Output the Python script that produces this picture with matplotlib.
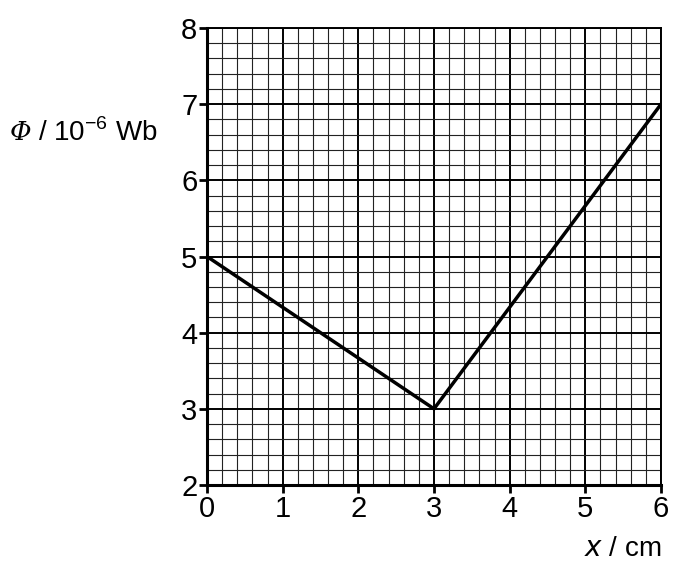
import matplotlib.pyplot as plt
import numpy as np
from matplotlib.ticker import MultipleLocator

plt.rcParams['font.family'] = ['Liberation Sans', 'DejaVu Sans']
plt.rcParams['mathtext.fontset'] = 'custom'
plt.rcParams['mathtext.rm'] = 'Liberation Sans'

# flux against position
x_cm = [0, 3, 6]
phi = [5, 3, 7]
x_ticks = [0, 1, 2, 3, 4, 5, 6]
y_ticks = [2, 3, 4, 5, 6, 7, 8]

fig = plt.figure(figsize=(6.77, 5.74), dpi=100)
ax = fig.add_axes([207 / 677, 1 - 485 / 574, (661 - 207) / 677, (485 - 28) / 574])

ax.set_xlim(0, 6)
ax.set_ylim(2, 8)
ax.set_xticks(x_ticks)
ax.set_yticks(y_ticks)
ax.xaxis.set_minor_locator(MultipleLocator(0.2))
ax.yaxis.set_minor_locator(MultipleLocator(0.2))

ax.grid(which='minor', color='#222222', lw=0.8)
ax.grid(which='major', color='black', lw=1.4)
ax.set_axisbelow(True)

ax.plot(x_cm, phi, color='black', lw=2.5, solid_joinstyle='miter')

for s in ['top', 'right']:
    ax.spines[s].set_linewidth(1.4)
for s in ['left', 'bottom']:
    ax.spines[s].set_linewidth(2.2)

ax.tick_params(which='major', direction='out', length=6, width=2, labelsize=21, pad=1)
ax.tick_params(which='minor', length=0)

fig.text(10 / 677, 1 - 133 / 574, 'Φ', family='DejaVu Serif', style='italic',
         fontsize=19, va='center', ha='left')
fig.text(38 / 677, 1 - 133 / 574, r'/ 10$^{-6}$ Wb', fontsize=20, va='center', ha='left')
fig.text(661 / 677, 1 - 549 / 574, r'$x$ / cm', fontsize=20, va='center', ha='right')

fig.savefig('out.png', dpi=100)
